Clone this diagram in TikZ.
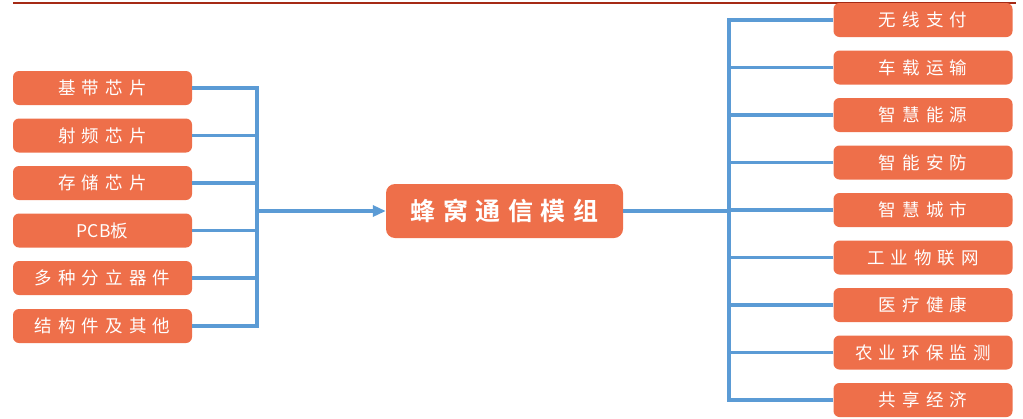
\documentclass[tikz,border=0pt]{standalone}
\usepackage{fontspec}
\usetikzlibrary{arrows.meta}
\newfontfamily\cjk[LetterSpace=35]{Noto Sans CJK SC}
\newfontfamily\cjkplain{Noto Sans CJK SC}
\newfontfamily\cjkbold[LetterSpace=30]{Noto Sans CJK SC Bold}
\definecolor{boxorange}{HTML}{EE6F4A}
\definecolor{linkblue}{HTML}{5B9BD5}
\definecolor{topred}{HTML}{A52A15}
\tikzset{
  item/.style={draw=none, fill=boxorange, rounded corners=6pt, minimum width=179pt, minimum height=34pt, inner sep=0pt, text=white, font=\cjk\fontsize{17.5pt}{20pt}\selectfont},
  hub/.style={draw=none, fill=boxorange, rounded corners=9pt, minimum width=237pt, minimum height=54pt, inner sep=0pt, text=white, font=\cjkbold\fontsize{25pt}{28pt}\selectfont},
  link/.style={draw=linkblue, line width=3.2pt},
}
\begin{document}
\begin{tikzpicture}[x=1pt,y=-1pt]
\useasboundingbox (0,0) rectangle (1023,418);
\coordinate (tl) at (13,3);
\coordinate (tr) at (1016,3);
\draw[topred, line width=2.6pt] (tl) -- (tr);
% left items
\node[item] (l1) at (102.5,88) {基带芯片};
\node[item] (l2) at (102.5,135.5) {射频芯片};
\node[item] (l3) at (102.5,183) {存储芯片};
\node[item, font=\cjkplain\fontsize{17.5pt}{20pt}\selectfont] (l4) at (102.5,230.5) {PCB板};
\node[item] (l5) at (102.5,278) {多种分立器件};
\node[item] (l6) at (102.5,326) {结构件及其他};
% hub
\node[hub] (hub) at (504.5,211) {蜂窝通信模组};
% right items
\node[item] (r1) at (923,20) {无线支付};
\node[item] (r2) at (923,67.5) {车载运输};
\node[item] (r3) at (923,115) {智慧能源};
\node[item] (r4) at (923,162.5) {智能安防};
\node[item] (r5) at (923,210) {智慧城市};
\node[item] (r6) at (923,257.5) {工业物联网};
\node[item] (r7) at (923,305) {医疗健康};
\node[item] (r8) at (923,352.5) {农业环保监测};
\node[item] (r9) at (923,400) {共享经济};
% buses
\coordinate (lbus) at (257,0);
\coordinate (rbus) at (729,0);
\foreach \n in {l1,l2,l3,l4,l5,l6}
  \draw[link] (\n.east) -- (\n.east -| lbus);
\draw[link, line cap=rect] (l1.east -| lbus) -- (l6.east -| lbus);
\draw[link, -{Triangle[length=13pt,width=11pt]}] (lbus |- hub.west) -- (hub.west);
\foreach \n in {r1,r2,r3,r4,r5,r6,r7,r8,r9}
  \draw[link] (\n.west) -- (\n.west -| rbus);
\draw[link, line cap=rect] (r1.west -| rbus) -- (r9.west -| rbus);
\draw[link] (hub.east) -- (hub.east -| rbus);
\end{tikzpicture}
\end{document}
